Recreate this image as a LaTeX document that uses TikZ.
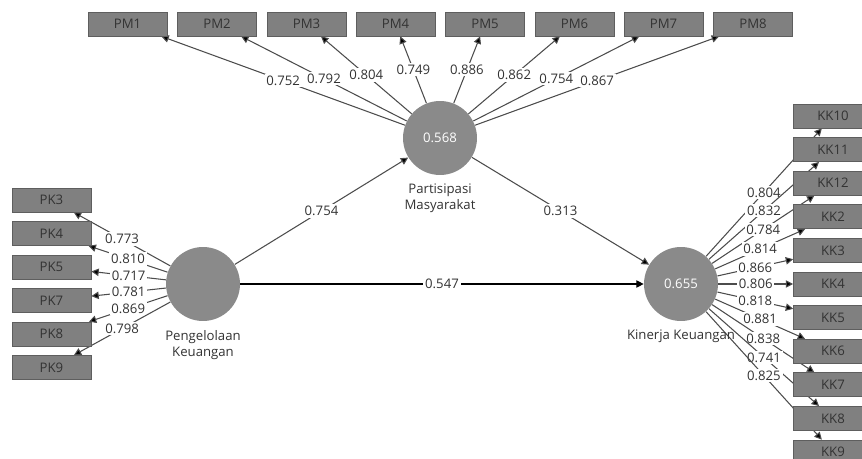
\documentclass[tikz,border=0pt]{standalone}
\usepackage{fontspec}
\setmainfont{Open Sans}
\usetikzlibrary{arrows.meta,backgrounds}

\definecolor{boxgray}{HTML}{808080}
\definecolor{boxline}{HTML}{5E5E5E}
\definecolor{circgray}{HTML}{8A8A8A}
\definecolor{txtgray}{HTML}{333333}

\begin{document}
\begin{tikzpicture}[x=0.02cm, y=-0.02cm,
            every node/.style={font=\fontsize{7.5}{9}\selectfont, text=txtgray},
            indicator/.style={rectangle, draw=boxline, fill=boxgray, minimum width=1.58cm, minimum height=0.48cm, inner sep=0pt},
            construct/.style={circle, fill=circgray, minimum size=1.48cm, inner sep=0pt, text=white},
            loading/.style={draw=black!70, line width=0.6pt, -{Triangle[length=4.2pt,width=4.2pt]}},
            coef/.style={fill=white, inner sep=1pt}]
            \tikzset{cname/.style={text=txtgray, align=center, label distance=1.5pt}}
            \useasboundingbox (0,0) rectangle (862,459);
            % constructs
            \node [construct, label={[cname]below:{Pengelolaan\\Keuangan}}] (peng) at (203, 284) {};
            \node [construct, label={[cname]below:{Partisipasi\\Masyarakat}}] (part) at (440, 138) {0.568};
            \node [construct, label={[cname]below:{Kinerja Keuangan}}] (kin) at (681, 284) {0.655};
            % indicators
            \node [indicator] (pm1) at (127.5, 24) {PM1};
            \node [indicator] (pm2) at (217, 24) {PM2};
            \node [indicator] (pm3) at (306.5, 24) {PM3};
            \node [indicator] (pm4) at (395.5, 24) {PM4};
            \node [indicator] (pm5) at (485, 24) {PM5};
            \node [indicator] (pm6) at (574.5, 24) {PM6};
            \node [indicator] (pm7) at (663.5, 24) {PM7};
            \node [indicator] (pm8) at (753, 24) {PM8};
            \node [indicator] (pk3) at (51.5, 200) {PK3};
            \node [indicator] (pk4) at (51.5, 233.5) {PK4};
            \node [indicator] (pk5) at (51.5, 267) {PK5};
            \node [indicator] (pk7) at (51.5, 300.5) {PK7};
            \node [indicator] (pk8) at (51.5, 334) {PK8};
            \node [indicator] (pk9) at (51.5, 367.5) {PK9};
            \node [indicator] (kk10) at (833, 116) {KK10};
            \node [indicator] (kk11) at (833, 149.6) {KK11};
            \node [indicator] (kk12) at (833, 183.2) {KK12};
            \node [indicator] (kk2) at (833, 216.8) {KK2};
            \node [indicator] (kk3) at (833, 250.4) {KK3};
            \node [indicator] (kk4) at (833, 284) {KK4};
            \node [indicator] (kk5) at (833, 317.6) {KK5};
            \node [indicator] (kk6) at (833, 351.2) {KK6};
            \node [indicator] (kk7) at (833, 384.8) {KK7};
            \node [indicator] (kk8) at (833, 418.4) {KK8};
            \node [indicator] (kk9) at (833, 452) {KK9};
            \begin{scope}[on background layer]
            % outer loadings
            \draw [loading] (part) edge node [coef] {0.752} (pm1);
            \draw [loading] (part) edge node [coef] {0.792} (pm2);
            \draw [loading] (part) edge node [coef] {0.804} (pm3);
            \draw [loading] (part) edge node [coef] {0.749} (pm4);
            \draw [loading] (part) edge node [coef] {0.886} (pm5);
            \draw [loading] (part) edge node [coef] {0.862} (pm6);
            \draw [loading] (part) edge node [coef] {0.754} (pm7);
            \draw [loading] (part) edge node [coef] {0.867} (pm8);
            \draw [loading] (peng) edge node [coef] {0.773} (pk3);
            \draw [loading] (peng) edge node [coef] {0.810} (pk4);
            \draw [loading] (peng) edge node [coef] {0.717} (pk5);
            \draw [loading] (peng) edge node [coef] {0.781} (pk7);
            \draw [loading] (peng) edge node [coef] {0.869} (pk8);
            \draw [loading] (peng) edge node [coef] {0.798} (pk9);
            \draw [loading] (kin) edge node [coef] {0.804} (kk10);
            \draw [loading] (kin) edge node [coef] {0.832} (kk11);
            \draw [loading] (kin) edge node [coef] {0.784} (kk12);
            \draw [loading] (kin) edge node [coef] {0.814} (kk2);
            \draw [loading] (kin) edge node [coef] {0.866} (kk3);
            \draw [loading] (kin) edge node [coef] {0.806} (kk4);
            \draw [loading] (kin) edge node [coef] {0.818} (kk5);
            \draw [loading] (kin) edge node [coef] {0.881} (kk6);
            \draw [loading] (kin) edge node [coef] {0.838} (kk7);
            \draw [loading] (kin) edge node [coef] {0.741} (kk8);
            \draw [loading] (kin) edge node [coef] {0.825} (kk9);
            % path coefficients
            \draw [loading] (peng) edge node [coef] {0.754} (part);
            \draw [loading] (part) edge node [coef] {0.313} (kin);
            \draw [loading, draw=black, line width=0.7pt] (peng) edge node [coef] {0.547} (kin);
            \end{scope}
        \end{tikzpicture}
\end{document}
